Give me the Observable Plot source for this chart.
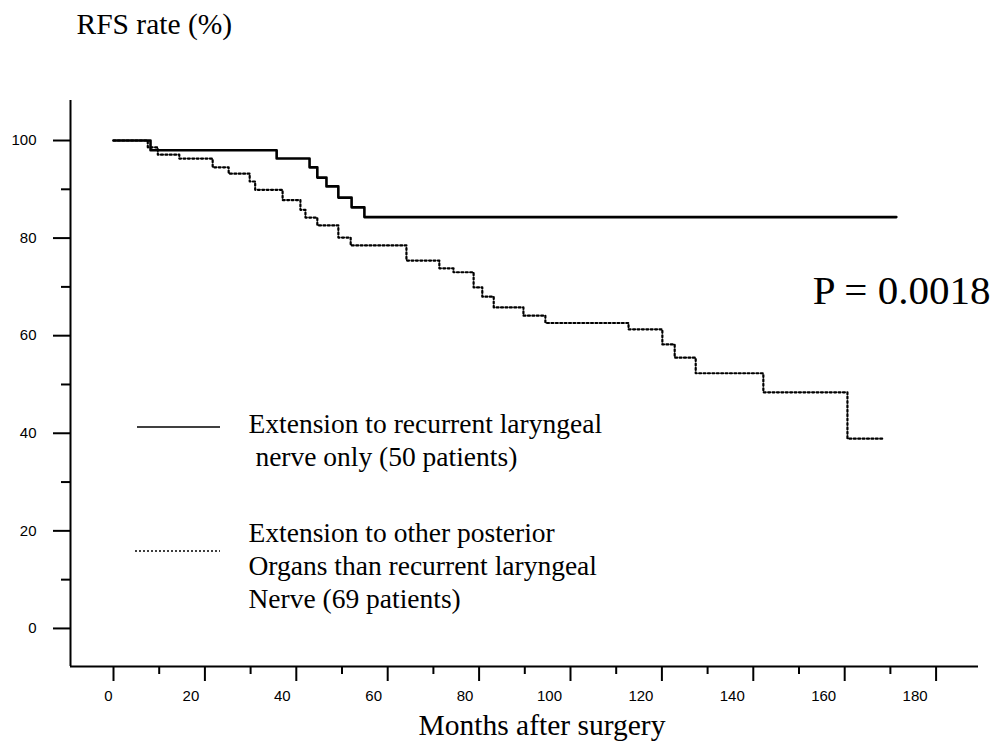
<!DOCTYPE html>
<html>
<head>
<meta charset="utf-8">
<script src="https://cdn.jsdelivr.net/npm/d3@7"></script>
<script src="https://cdn.jsdelivr.net/npm/@observablehq/plot@0.6"></script>
<style>
  html, body { margin: 0; padding: 0; background: #fff; }
  #wrap { position: relative; width: 994px; height: 744px; overflow: hidden; background: #fff; }
  #wrap svg.plot { position: absolute; left: 0; top: 0; overflow: visible; }
  .swatch { position: absolute; }
</style>
</head>
<body>
<div id="wrap">
  <svg class="swatch" style="left:135px; top:421px;" width="90" height="12"><line x1="2" x2="85" y1="6" y2="6" stroke="#000" stroke-width="1.6"/></svg>
  <svg class="swatch" style="left:133px; top:545px;" width="90" height="12"><line x1="2" x2="87" y1="6" y2="6" stroke="#000" stroke-width="1.6" stroke-dasharray="2,2"/></svg>
</div>
<script>
// Group 1: extension to recurrent laryngeal nerve only (50 patients)
const nerveMonths = [0, 8.1, 35.7, 42.9, 44.6, 46.6, 49.2, 52.1, 54.9, 171.3];
const nerveRFS    = [100, 98.0, 96.3, 94.5, 92.4, 90.6, 88.3, 86.3, 84.3, 84.3];

// Group 2: extension to other posterior organs (69 patients)
const otherMonths = [0, 7.5, 9.7, 14.4, 21.7, 25.2, 29.8, 31.0, 37.0, 40.9, 42.0, 44.6, 49.2, 51.9, 64.1, 71.3, 74.4, 78.8, 80.7, 83.2, 89.7, 94.5, 112.7, 120.1, 122.8, 127.4, 142.2, 160.6, 168.5];
const otherRFS    = [100, 98.6, 97.1, 96.3, 94.5, 93.2, 91.6, 89.9, 87.8, 85.8, 84.2, 82.6, 80.1, 78.5, 75.4, 73.8, 73.0, 69.9, 68.0, 65.8, 64.1, 62.6, 61.3, 58.2, 55.5, 52.3, 48.4, 38.9, 38.9];

// Axis ticks and labels
const xMajorTicks = [0, 20, 40, 60, 80, 100, 120, 140, 160, 180];
const xMinorTicks = [10, 30, 50, 70, 90, 110, 130, 150, 170];
const yMajorTicks = [0, 20, 40, 60, 80, 100];
const yMinorTicks = [10, 30, 50, 70, 90];

const xDomain = [-9.41, 189.28];
const yDomain = [-7.8, 108.2];

const titleText = "RFS rate (%)";
const xLabelText = "Months after surgery";
const pText = "P = 0.0018";
const legend1 = "Extension to recurrent laryngeal\n\u00a0nerve only (50 patients)";
const legend2 = "Extension to other posterior\nOrgans than recurrent laryngeal\nNerve (69 patients)";

const nerve = nerveMonths.map((m, i) => ({month: m, rfs: nerveRFS[i]}));
const other = otherMonths.map((m, i) => ({month: m, rfs: otherRFS[i]}));

const serif = "Liberation Serif, Times New Roman, serif";
const sans = "Liberation Sans, Arial, sans-serif";

const chart = Plot.plot({
  width: 994,
  height: 744,
  marginTop: 100,
  marginLeft: 70,
  marginRight: 16,
  marginBottom: 78,
  style: {background: "#fff", color: "#000"},
  x: {domain: xDomain},
  y: {domain: yDomain},
  marks: [
    // axis lines
    Plot.ruleX([xDomain[0]], {stroke: "#000", strokeWidth: 2}),
    Plot.ruleY([yDomain[0]], {stroke: "#000", strokeWidth: 2}),
    // y axis
    Plot.axisY({ticks: yMajorTicks, tickSize: 17, tickPadding: 17, strokeWidth: 2, fontSize: 15, fontFamily: sans, label: null}),
    Plot.axisY({ticks: yMinorTicks, tickSize: 9, strokeWidth: 2, tickFormat: () => "", label: null}),
    // x axis (ticks; labels drawn offset as in original)
    Plot.axisX({ticks: xMajorTicks, tickSize: 15, strokeWidth: 2, tickFormat: () => "", label: null}),
    Plot.axisX({ticks: xMinorTicks, tickSize: 8, strokeWidth: 2, tickFormat: () => "", label: null}),
    Plot.axisX({ticks: xMajorTicks.slice(0, 1), tickSize: 0, tickPadding: 24, dx: -5, fontSize: 15, fontFamily: sans, label: null}),
    Plot.axisX({ticks: xMajorTicks.slice(1, 5), tickSize: 0, tickPadding: 24, dx: -14, fontSize: 15, fontFamily: sans, label: null}),
    Plot.axisX({ticks: xMajorTicks.slice(5), tickSize: 0, tickPadding: 24, dx: -21, fontSize: 15, fontFamily: sans, label: null}),
    // curves
    Plot.line(other, {x: "month", y: "rfs", curve: "step-after", stroke: "#000", strokeWidth: 2.2, strokeDasharray: "2,2.4"}),
    Plot.line(nerve, {x: "month", y: "rfs", curve: "step-after", stroke: "#000", strokeWidth: 2.6}),
    // texts
    Plot.text([titleText], {frameAnchor: "top-left", textAnchor: "start", lineAnchor: "bottom", dx: 6, dy: -67, fontSize: 29.5, fontFamily: serif, fill: "#000"}),
    Plot.text([xLabelText], {frameAnchor: "bottom-left", textAnchor: "start", lineAnchor: "bottom", dx: 348, dy: 68, fontSize: 29.5, fontFamily: serif, fill: "#000"}),
    Plot.text([pText], {frameAnchor: "top-right", textAnchor: "end", lineAnchor: "bottom", dx: 12, dy: 203, fontSize: 41, fontFamily: serif, fill: "#000"}),
    Plot.text([legend1], {frameAnchor: "top-left", textAnchor: "start", lineAnchor: "bottom", lineHeight: 1.2, dx: 178, dy: 365, fontSize: 27.5, fontFamily: serif, fill: "#000"}),
    Plot.text([legend2], {frameAnchor: "top-left", textAnchor: "start", lineAnchor: "bottom", lineHeight: 1.2, dx: 178, dy: 507, fontSize: 27.5, fontFamily: serif, fill: "#000"})
  ]
});
chart.classList.add("plot");
document.getElementById("wrap").prepend(chart);
</script>
</body>
</html>
